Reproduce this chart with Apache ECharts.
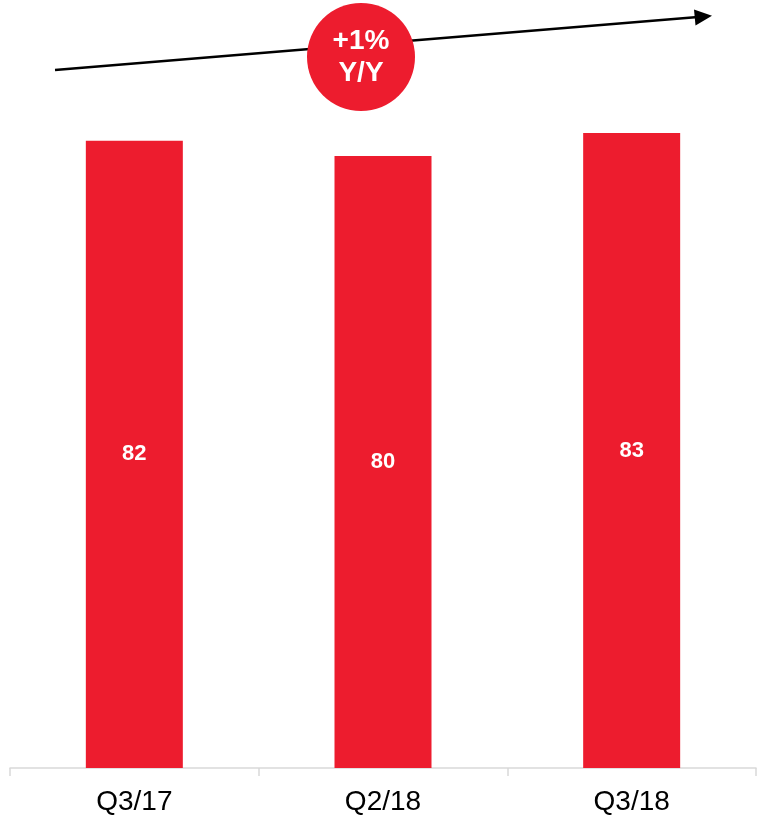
<!DOCTYPE html>
<html>
<head>
<meta charset="utf-8">
<script src="https://cdn.jsdelivr.net/npm/echarts@6/dist/echarts.min.js"></script>
<style>
  html, body { margin: 0; padding: 0; background: #fff; }
  #chart { width: 757px; height: 816px; }
</style>
</head>
<body>
<div id="chart"></div>
<script>
var quarters = ['Q3/17', 'Q2/18', 'Q3/18'];
var values = [82, 80, 83];
var badgeLines = ['+1%', 'Y/Y'];

var red = '#ED1C2E';

var chart = echarts.init(document.getElementById('chart'));

var option = {
    animation: false,
    grid: { left: 10, right: 1, top: 3, bottom: 47 },
    xAxis: {
        type: 'category',
        data: quarters,
        axisLine: { lineStyle: { color: '#d9d9d9', width: 1.5 } },
        axisTick: { show: true, length: 8, lineStyle: { color: '#d9d9d9', width: 1.5 } },
        axisLabel: { color: '#000', fontSize: 28, fontFamily: 'Liberation Sans', margin: 20 }
    },
    yAxis: { type: 'value', min: 0, max: 100, show: false },
    series: [{
        type: 'bar',
        data: values,
        barWidth: 97,
        itemStyle: { color: red },
        label: {
            show: true,
            position: 'inside',
            color: '#fff',
            fontWeight: 'bold',
            fontSize: 22,
            fontFamily: 'Liberation Sans'
        }
    }],
    graphic: [
        {
            type: 'line',
            z: 10,
            shape: { x1: 55, y1: 70, x2: 698, y2: 17 },
            style: { stroke: '#000', lineWidth: 2.5 }
        },
        {
            type: 'polygon',
            z: 10,
            shape: { points: [[712, 15.8], [694, 9.5], [695.5, 25.5]] },
            style: { fill: '#000' }
        },
        {
            type: 'circle',
            z: 20,
            shape: { cx: 361, cy: 57, r: 54 },
            style: { fill: red }
        },
        {
            type: 'text',
            z: 30,
            x: 361, y: 57,
            style: {
                text: badgeLines.join('\n'),
                fill: '#fff',
                font: 'bold 28px "Liberation Sans"',
                lineHeight: 32,
                align: 'center',
                verticalAlign: 'middle'
            }
        }
    ]
};

chart.setOption(option);
</script>
</body>
</html>
